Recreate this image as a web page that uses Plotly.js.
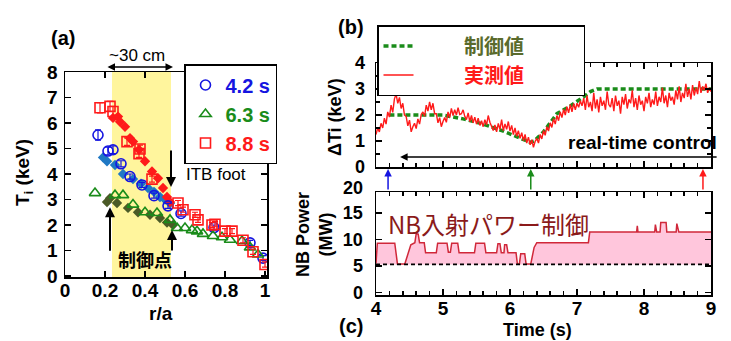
<!DOCTYPE html>
<html><head><meta charset="utf-8">
<script src="https://cdn.plot.ly/plotly-3.0.1.min.js"></script>
<style>html,body{margin:0;padding:0;background:#fff}#chart{width:731px;height:341px}</style>
</head><body><div id="chart"></div>
<script>
// ---------- Panel (a): Ti profiles ----------
const r_42 = [0.165, 0.215, 0.24, 0.28, 0.325, 0.385, 0.445, 0.515, 0.58, 0.745, 0.925, 0.99];
const ti_42 = [5.53, 4.9, 4.95, 4.4, 3.9, 3.57, 3.15, 2.75, 2.45, 1.9, 1.3, 0.7];
const err_42 = [0.2, 0.15, 0.15, 0.12, 0.1, 0.1, 0.1, 0.1, 0.1, 0.1, 0.1, 0.1];
const r_42fit = [0.19, 0.21, 0.25, 0.29, 0.34, 0.38, 0.415, 0.445, 0.475, 0.5, 0.525];
const ti_42fit = [4.65, 4.5, 4.35, 4.0, 3.8, 3.62, 3.45, 3.3, 3.1, 3.0, 2.85];

const r_63 = [0.15, 0.25, 0.29, 0.34, 0.4, 0.46, 0.525, 0.56, 0.6, 0.635, 0.66, 0.69, 0.74, 0.785, 0.825, 0.885, 0.925, 0.965];
const ti_63 = [3.25, 3.17, 3.17, 2.8, 2.5, 2.47, 2.2, 1.88, 1.88, 1.8, 1.75, 1.65, 1.57, 1.52, 1.42, 1.37, 1.12, 0.84];
const r_63fit = [0.21, 0.225, 0.26, 0.315, 0.365, 0.425, 0.475, 0.51, 0.54];
const ti_63fit = [2.9, 3.05, 2.86, 2.67, 2.5, 2.4, 2.27, 2.1, 2.0];

const r_88 = [0.175, 0.225, 0.24, 0.31, 0.375, 0.37, 0.435, 0.565, 0.59, 0.65, 0.665, 0.735, 0.75, 0.8, 0.835, 0.89, 0.94, 1.0];
const ti_88 = [6.6, 6.65, 6.45, 5.27, 4.98, 4.8, 3.8, 2.86, 2.6, 2.4, 2.2, 2.0, 2.03, 1.76, 1.76, 1.4, 0.95, 0.45];
const err_88 = [0.2, 0.2, 0.2, 0.15, 0.15, 0.15, 0.12, 0.1, 0.1, 0.1, 0.1, 0.1, 0.1, 0.1, 0.1, 0.1, 0.1, 0.1];
const r_88fit = [0.24, 0.265, 0.275, 0.3, 0.325, 0.34, 0.37, 0.4, 0.435, 0.465, 0.49, 0.51, 0.525];
const ti_88fit = [6.2, 6.25, 6.05, 5.85, 5.4, 5.27, 4.95, 4.5, 4.1, 3.83, 3.45, 3.1, 2.9];

const ra_ticks = [0, 0.2, 0.4, 0.6, 0.8, 1];
const ra_ticktext = ['0', '0.2', '0.4', '0.6', '0.8', '1'];
const ti_ticks = [0, 1, 2, 3, 4, 5, 6, 7, 8];

// ---------- Panel (b): Delta Ti ----------
const dTi_t0 = 4.0;
const dTi_dt = 0.025;
const dTi_meas = [
 1.25,1.50,1.35,1.68,1.50,1.88,1.65,2.12,1.92,2.38,
 2.10,2.62,2.80,2.45,2.68,2.25,2.45,2.00,1.95,1.58,
 1.80,1.35,1.55,1.68,1.48,1.85,1.65,2.02,2.12,1.95,
 2.38,2.15,2.50,2.20,2.45,2.05,2.05,1.70,1.90,1.55,
 1.75,1.90,1.72,2.12,1.90,2.25,1.98,2.20,2.00,2.28,
 2.02,2.05,2.20,1.95,1.82,2.08,1.75,1.98,1.70,1.92,
 1.65,1.88,1.60,1.78,1.55,1.82,1.62,1.98,1.72,1.55,
 1.40,1.62,1.35,1.68,1.45,1.82,1.40,1.66,1.45,1.75,
 1.38,1.60,1.25,1.50,1.18,1.40,1.10,1.32,1.02,1.25,
 0.92,1.15,0.85,1.05,0.76,0.98,1.10,0.92,1.25,1.08,
 1.40,1.22,1.55,1.38,1.70,1.52,1.86,1.65,1.98,1.78,
 2.12,1.90,2.22,2.00,2.32,2.08,2.40,2.12,2.45,2.20,
 2.45,2.30,2.55,2.35,2.65,2.20,2.75,2.30,2.50,2.15,
 2.85,2.25,2.60,2.10,2.70,2.35,2.55,2.20,2.90,2.40,
 2.30,2.65,2.15,2.75,2.35,2.55,2.05,2.70,2.40,2.80,
 2.25,2.60,2.45,2.95,2.30,2.65,2.20,2.75,2.40,2.55,
 2.15,2.70,2.45,2.85,2.30,2.60,2.40,2.90,2.35,2.70,
 2.50,3.05,2.45,2.75,2.30,2.85,2.55,2.70,2.40,2.95,
 2.60,3.10,2.50,2.85,2.65,3.20,2.70,3.00,2.60,3.15,
 2.75,3.05,2.80,3.30,2.85,3.10,2.95,3.20,2.85,3.05,
 2.90];
const dTi_target_t = [4.2, 5.0, 5.3, 5.6, 5.9, 6.1, 6.3, 6.36, 6.5, 6.7, 6.9, 7.1, 7.2, 7.3, 9.0];
const dTi_target = [2.0, 2.0, 1.85, 1.65, 1.38, 1.15, 0.95, 1.0, 1.35, 2.05, 2.35, 2.7, 2.9, 3.0, 3.0];
const dTi_ticks = [0, 1, 2, 3, 4];

// ---------- Panel (c): NB power ----------
const nb_t = [4.00, 4.02, 4.28, 4.32, 4.43, 4.47, 4.52, 4.58, 4.60, 4.63, 4.65, 4.72, 4.74, 4.90, 4.92, 5.06, 5.08, 5.11, 5.13, 5.22, 5.24, 5.47, 5.49, 5.62, 5.64, 5.80, 5.82, 5.85, 5.87, 5.91, 5.92, 5.95, 5.97, 6.09, 6.11, 6.14, 6.16, 6.22, 6.24, 6.31, 6.36, 6.40, 7.17, 7.19, 7.89, 7.90, 7.91, 8.16, 8.17, 8.19, 8.24, 8.25, 8.33, 8.34, 8.48, 8.49, 8.52, 9.00];
const nb_p = [5.5, 9.3, 9.3, 5.4, 5.4, 7.0, 9.0, 9.4, 11.1, 11.0, 9.4, 9.4, 7.5, 7.5, 9.3, 9.3, 7.6, 7.6, 9.3, 9.3, 7.5, 7.5, 9.3, 9.3, 7.5, 7.5, 9.2, 9.2, 7.5, 7.5, 9.0, 9.0, 7.5, 7.5, 5.4, 5.4, 7.3, 7.3, 5.4, 5.4, 8.5, 9.4, 9.4, 11.4, 11.4, 12.6, 11.4, 11.4, 12.8, 11.4, 11.4, 13.2, 13.2, 11.4, 11.4, 13.0, 11.4, 11.4];
const nb_base_t = [4.0, 9.0];
const nb_base_p = [5.3, 5.3];
const nb_ticks = [0, 5, 10, 15];
const time_ticks = [4, 5, 6, 7, 8, 9];
const arrow_times = [4.18, 6.31, 8.88];
const arrow_colors = ['#1515e0', '#1a8c1a', '#ff1a1a'];

// ---------- helpers ----------
const W = 731, H = 341;
const px = v => v / W;
const py = v => 1 - v / H;
const LAT = 'Liberation Sans, Arial, sans-serif';
const CJK = 'Noto Sans CJK JP, sans-serif';
const tickFont = {family: LAT, size: 19, color: '#000'};
const bold = arr => arr.map(v => '<b>' + v + '</b>');

const axBase = {
  showline: true, linecolor: '#000', linewidth: 1.5, mirror: 'allticks',
  ticks: 'inside', ticklen: 6, tickwidth: 1.5, tickcolor: '#000',
  showgrid: false, zeroline: false, tickfont: tickFont, fixedrange: true
};

const dTi_time = dTi_meas.map((_, i) => dTi_t0 + i * dTi_dt);

const traces = [
  {x: r_42fit, y: ti_42fit, type: 'scatter', mode: 'markers', xaxis: 'x', yaxis: 'y', showlegend: false,
   marker: {symbol: 'diamond', size: 8, color: '#1f78c4'}},
  {x: r_63fit, y: ti_63fit, type: 'scatter', mode: 'markers', xaxis: 'x', yaxis: 'y', showlegend: false,
   marker: {symbol: 'diamond', size: 8, color: '#4b5a27'}},
  {x: r_88fit, y: ti_88fit, type: 'scatter', mode: 'markers', xaxis: 'x', yaxis: 'y', showlegend: false,
   marker: {symbol: 'diamond', size: 8, color: '#ff1a1a'}},
  {x: r_42, y: ti_42, type: 'scatter', mode: 'markers', xaxis: 'x', yaxis: 'y', legend: 'legend',
   name: '<span style="color:#1515e0">4.2 s</span>',
   error_y: {type: 'data', array: err_42, color: '#1515e0', thickness: 1.2, width: 3},
   marker: {symbol: 'circle-open', size: 10, color: '#1515e0', line: {width: 1.6}}},
  {x: r_63, y: ti_63, type: 'scatter', mode: 'markers', xaxis: 'x', yaxis: 'y', legend: 'legend',
   name: '<span style="color:#1a8c1a">6.3 s</span>',
   marker: {symbol: 'triangle-up-open', size: 10, color: '#1a8c1a', line: {width: 1.6}}},
  {x: r_88, y: ti_88, type: 'scatter', mode: 'markers', xaxis: 'x', yaxis: 'y', legend: 'legend',
   name: '<span style="color:#ff1a1a">8.8 s</span>',
   error_y: {type: 'data', array: err_88, color: '#ff1a1a', thickness: 1.2, width: 3},
   marker: {symbol: 'square-open', size: 10, color: '#ff1a1a', line: {width: 1.6}}},
  {x: dTi_target_t, y: dTi_target, type: 'scatter', mode: 'lines', xaxis: 'x2', yaxis: 'y2', legend: 'legend2',
   name: '\u00a0'.repeat(10) + '<span style="color:#5a6b2c">制御値</span>' + '\u00a0'.repeat(12),
   line: {color: '#1a8c1a', width: 3.5, dash: '5px,3px'}},
  {x: dTi_time, y: dTi_meas, type: 'scatter', mode: 'lines', xaxis: 'x2', yaxis: 'y2', legend: 'legend2',
   name: '\u00a0'.repeat(10) + '<span style="color:#ff1a1a">実測値</span>' + '\u00a0'.repeat(12),
   line: {color: '#ff1a1a', width: 1.4}},
  {x: nb_base_t, y: nb_base_p, type: 'scatter', mode: 'lines', xaxis: 'x3', yaxis: 'y3', showlegend: false,
   line: {width: 0, color: 'rgba(0,0,0,0)'}},
  {x: nb_t, y: nb_p, type: 'scatter', mode: 'lines', xaxis: 'x3', yaxis: 'y3', showlegend: false,
   fill: 'tonexty', fillcolor: '#ffc6dc', line: {color: '#d0283a', width: 1.5}},
  {x: nb_base_t, y: nb_base_p, type: 'scatter', mode: 'lines', xaxis: 'x3', yaxis: 'y3', showlegend: false,
   line: {color: '#000', width: 1.8, dash: '4px,3px'}}
];

function ann(x, y, text, opts) {
  return Object.assign({x: px(x), y: py(y), xref: 'paper', yref: 'paper', text: text, showarrow: false,
    xanchor: 'center', yanchor: 'middle', font: {family: LAT, size: 18, color: '#000'}}, opts || {});
}
function arrow(x, y, xref, yref, ax, ay, color, width) {
  return {x: x, y: y, xref: xref, yref: yref, text: '', showarrow: true, ax: ax, ay: ay,
    axref: 'pixel', ayref: 'pixel', arrowhead: 2, arrowsize: 1, arrowwidth: width || 2,
    arrowcolor: color || '#000', standoff: 0, startstandoff: 0};
}

const annotations = [
  ann(63, 38, '<b>(a)</b>', {font: {family: LAT, size: 20, color: '#000'}}),
  ann(351, 27, '<b>(b)</b>', {font: {family: LAT, size: 20, color: '#000'}}),
  ann(351, 326, '<b>(c)</b>', {font: {family: LAT, size: 20, color: '#000'}}),
  ann(137, 56, '~30 cm', {font: {family: LAT, size: 17, color: '#000'}}),
  Object.assign(arrow(px(173), py(67), 'paper', 'paper', -67, 0, '#000', 1.5), {arrowside: 'end+start'}),
  ann(216, 174, 'ITB foot', {font: {family: LAT, size: 17, color: '#000'}}),
  arrow(0.53, 3.49, 'x', 'y', 0, -38, '#000', 2),
  arrow(0.225, 2.7, 'x', 'y', 0, 45, '#000', 2),
  arrow(0.535, 1.8, 'x', 'y', 0, 22, '#000', 2),
  ann(145, 259, '<b>制御点</b>', {font: {family: CJK, size: 18, color: '#000'}}),
  ann(24, 173, '<b>T<sub>i</sub> (keV)</b>', {textangle: -90, font: {family: LAT, size: 19, color: '#000'}}),
  ann(161, 313, '<b>r/a</b>', {font: {family: LAT, size: 19, color: '#000'}}),
  ann(335, 117, '<b>ΔTi (keV)</b>', {textangle: -90}),
  ann(314, 235, '<b>NB Power<br>(MW)</b>', {textangle: -90}),
  ann(365, 188, '<b>20</b>', {xanchor: 'right', font: {family: LAT, size: 18, color: '#000'}}),
  ann(642, 142, '<b>real-time control</b>', {font: {family: LAT, size: 19, color: '#000'}}),
  arrow(4.36, 0.38, 'x2', 'y2', 318, 0, '#000', 1.5),
  ann(488, 223, 'NB入射パワー制御', {font: {family: CJK, size: 24, color: '#8b1a1a'}}),
  ann(537, 330, '<b>Time (s)</b>', {font: {family: LAT, size: 18, color: '#000'}})
];
arrow_times.forEach((t, i) => annotations.push(arrow(t, py(169), 'x3', 'paper', 0, 22, arrow_colors[i], 1.5)));

const layout = {
  width: W, height: H, margin: {l: 0, r: 0, t: 0, b: 0},
  paper_bgcolor: '#fff', plot_bgcolor: 'rgba(0,0,0,0)',
  font: {family: LAT, color: '#000'},
  showlegend: true,
  xaxis: Object.assign({}, axBase, {domain: [px(65), px(267)], range: [0, 1.01], anchor: 'y',
    tickvals: ra_ticks, ticktext: bold(ra_ticktext), ticklabelstandoff: -4}),
  yaxis: Object.assign({}, axBase, {domain: [py(277), py(72)], range: [-0.04, 8.0], anchor: 'x',
    tickvals: ti_ticks, ticktext: bold(ti_ticks), ticklabelstandoff: 2}),
  xaxis2: Object.assign({}, axBase, {domain: [px(376), px(711)], range: [4, 9], anchor: 'y2',
    tickvals: time_ticks, showticklabels: false,
    minor: {dtick: 0.2, tick0: 4, ticks: 'inside', ticklen: 4, tickcolor: '#000'}}),
  yaxis2: Object.assign({}, axBase, {domain: [py(167), py(63)], range: [0, 4], anchor: 'x2',
    tickvals: dTi_ticks, ticktext: bold(dTi_ticks), ticklabelstandoff: 6,
    tickfont: {family: LAT, size: 18, color: '#000'},
    minor: {dtick: 0.5, ticks: 'inside', ticklen: 4, tickcolor: '#000'}}),
  xaxis3: Object.assign({}, axBase, {domain: [px(376), px(711)], range: [4, 9], anchor: 'y3',
    tickvals: time_ticks, ticktext: bold(time_ticks), ticklabelstandoff: -4,
    minor: {dtick: 0.2, tick0: 4, ticks: 'inside', ticklen: 4, tickcolor: '#000'}}),
  yaxis3: Object.assign({}, axBase, {domain: [py(295), py(192)], range: [-0.47, 18.96], anchor: 'x3',
    tickvals: nb_ticks, ticktext: bold(nb_ticks), ticklabelstandoff: 8,
    tickfont: {family: LAT, size: 18, color: '#000'}}),
  legend: {x: px(184), y: py(64), xanchor: 'left', yanchor: 'top', bgcolor: '#fff', bordercolor: '#000', borderwidth: 1.5,
    traceorder: 'normal', font: {family: LAT, size: 20, color: '#000', weight: 'bold'}, tracegroupgap: 0, itemclick: false},
  legend2: {x: px(377), y: py(25), xanchor: 'left', yanchor: 'top', bgcolor: '#fff', bordercolor: '#000', borderwidth: 1.5,
    traceorder: 'normal', font: {family: CJK, size: 20, color: '#000', weight: 'bold'}, tracegroupgap: 0, itemclick: false},
  shapes: [
    {type: 'rect', xref: 'x', yref: 'y', x0: 0.235, x1: 0.53, y0: -0.04, y1: 8.0, fillcolor: '#fff59d',
     line: {width: 0}, layer: 'below'}
  ],
  annotations: annotations
};

Plotly.newPlot('chart', traces, layout, {staticPlot: true, displayModeBar: false});
</script>
</body></html>
